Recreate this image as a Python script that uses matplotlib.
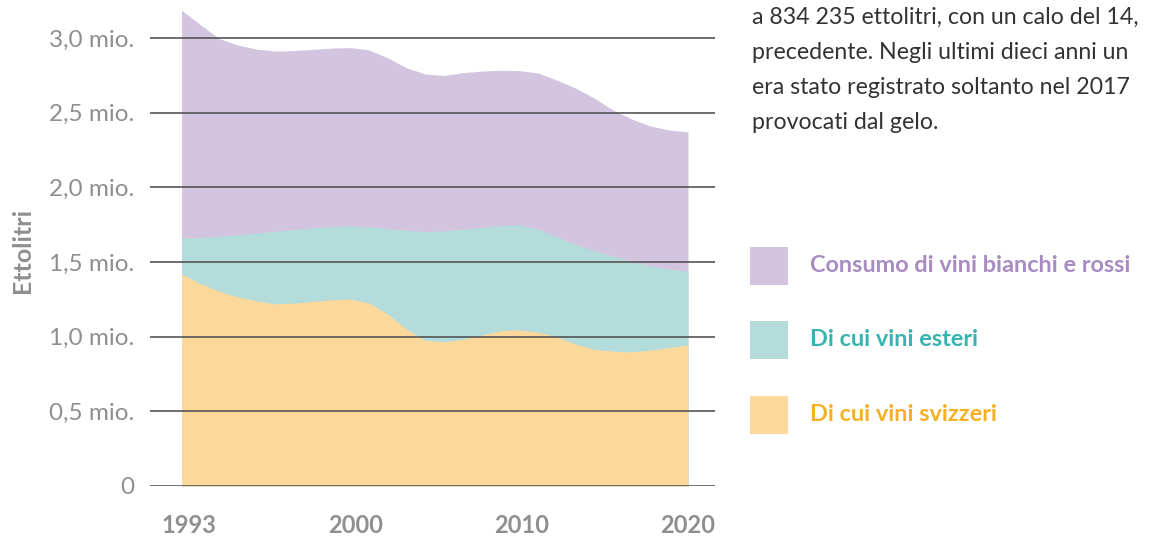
import numpy as np
from matplotlib import pyplot as plt
from matplotlib.patches import Rectangle

plt.rcParams['font.family'] = ['Lato', 'DejaVu Sans']

anni = np.arange(1993, 2021)

# consumo totale di vini bianchi e rossi (mio. ettolitri)
totale = [3.187, 3.09, 2.997, 2.953, 2.926, 2.913, 2.916, 2.924, 2.933, 2.936,
          2.92, 2.867, 2.80, 2.759, 2.749, 2.768, 2.779, 2.784, 2.782, 2.766,
          2.719, 2.665, 2.598, 2.518, 2.458, 2.411, 2.384, 2.372]
# limite superiore della parte "di cui vini esteri"
limite_esteri = [1.659, 1.665, 1.673, 1.681, 1.693, 1.706, 1.718, 1.728, 1.737, 1.742,
                 1.735, 1.725, 1.712, 1.704, 1.708, 1.719, 1.732, 1.744, 1.748, 1.72,
                 1.67, 1.618, 1.575, 1.54, 1.503, 1.475, 1.453, 1.44]
# di cui vini svizzeri
svizzeri = [1.42, 1.355, 1.305, 1.265, 1.24, 1.22, 1.225, 1.236, 1.247, 1.252,
            1.225, 1.15, 1.05, 0.975, 0.967, 0.982, 1.01, 1.04, 1.045, 1.03,
            1.0, 0.95, 0.915, 0.903, 0.898, 0.91, 0.927, 0.944]

y_ticks = [0, 0.5, 1.0, 1.5, 2.0, 2.5, 3.0]
y_labels = ['0', '0,5 mio.', '1,0 mio.', '1,5 mio.', '2,0 mio.', '2,5 mio.', '3,0 mio.']
x_labels = ['1993', '2000', '2010', '2020']

legenda = ['Consumo di vini bianchi e rossi', 'Di cui vini esteri', 'Di cui vini svizzeri']
col_aree = ['#d3c5e0', '#b4dcdb', '#fcd89a']
col_testo = ['#a88bc1', '#38b4af', '#f5b024']

# solo la parte visibile del testo (tagliato a destra nell'originale)
testo = ['a 834 235 ettolitri, con un calo del 14,',
         'precedente. Negli ultimi dieci anni un',
         'era stato registrato soltanto nel 2017',
         'provocati dal gelo.']

grigio = '#8f8f8f'

fig = plt.figure(figsize=(11.49, 5.39), dpi=100)
ax = fig.add_axes([150 / 1149, 53 / 539, 565 / 1149, 485.3 / 539])

ax.fill_between(anni, 0, totale, color=col_aree[0], lw=0, zorder=1)
ax.fill_between(anni, 0, limite_esteri, color=col_aree[1], lw=0, zorder=2)
ax.fill_between(anni, 0, svizzeri, color=col_aree[2], lw=0, zorder=3)

for v in y_ticks:
    ax.axhline(v, color='#555555', lw=1.2, zorder=4)

ax.set_xlim(1991.32, 2021.44)
ax.set_ylim(0, 3.25)
ax.set_yticks(y_ticks)
ax.set_yticklabels(y_labels, fontsize=17.5, color=grigio)
ax.set_xticks(np.linspace(anni[0] + 0.4, anni[-1], 4))
ax.set_xticklabels(x_labels, fontsize=17, color=grigio, fontweight='bold')
ax.tick_params(length=0)
ax.tick_params(axis='y', pad=11)
ax.tick_params(axis='x', pad=20)
for s in ax.spines.values():
    s.set_visible(False)

fig.text(22 / 1149, 1 - 250 / 539, 'Ettolitri', rotation=90, ha='center', va='center',
         fontsize=18, fontweight='bold', color=grigio)

for i, riga in enumerate(testo):
    fig.text(752 / 1149, 1 - (17 + 35.3 * i) / 539, riga, ha='left', va='center',
             fontsize=16.7, color='#333333')

for i, (lab, ca, ct) in enumerate(zip(legenda, col_aree, col_testo)):
    yc = 265.5 + 74.5 * i
    fig.patches.append(Rectangle((750 / 1149, 1 - (yc + 19) / 539), 38 / 1149, 38 / 539,
                                 transform=fig.transFigure, color=ca, lw=0))
    fig.text(810 / 1149, 1 - yc / 539, lab, ha='left', va='center',
             fontsize=16.9, fontweight='bold', color=ct)

fig.savefig('out.png', dpi=100)
